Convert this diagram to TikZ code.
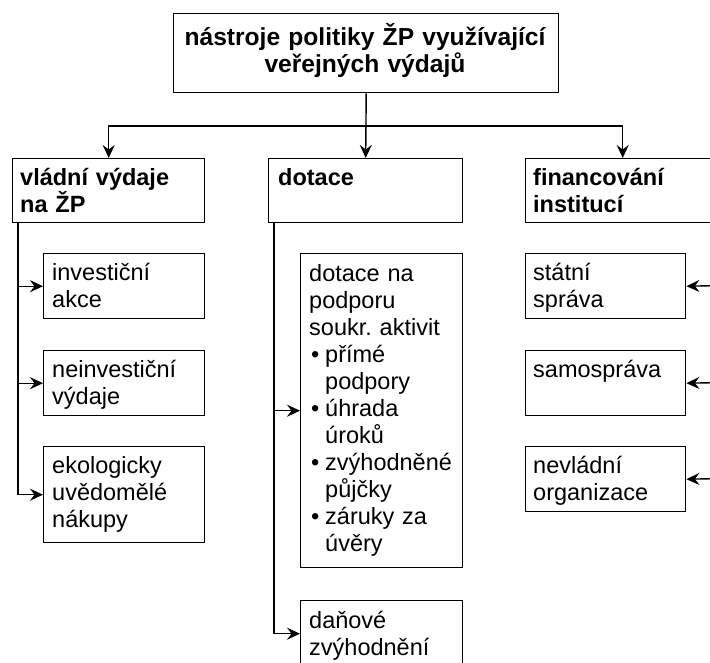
\documentclass[tikz,border=0pt]{standalone}
\usepackage{fontspec}
\setmainfont{Liberation Sans}
\frenchspacing
\usetikzlibrary{arrows.meta}
\tikzset{
  boxe/.style={draw, line width=1.4pt, anchor=north west, inner sep=0pt},
  txt/.style={anchor=base west, inner sep=0pt, align=left, text width=190pt,
              font=\fontsize{23.5pt}{27pt}\selectfont},
  btxt/.style={txt, font=\fontsize{23.5pt}{27pt}\selectfont\bfseries},
  conn/.style={line width=1.4pt},
  arr/.style={conn, -{Stealth[length=13pt,width=12pt,inset=4.5pt]}}
}
\newcommand\bul{\makebox[16pt][l]{\hspace*{2pt}•}}
\begin{document}
\begin{tikzpicture}[x=1pt,y=-1pt]
\useasboundingbox (0,0) rectangle (710,662);
\clip (0,0) rectangle (710,662);
% boxes
\node[boxe, minimum width=385pt, minimum height=79pt] (title) at (173,13) {};
\node[anchor=base, inner sep=0pt, align=center, text width=385pt, font=\fontsize{24.6pt}{27pt}\selectfont\bfseries] (titletxt) at (365,45)
  {nástroje politiky ŽP využívající\\veřejných výdajů};
\node[boxe, minimum width=192pt, minimum height=64pt] (vlad) at (12,158) {};
\node[btxt] (vladt) at (20,185) {vládní výdaje\\na ŽP};
\node[boxe, minimum width=194pt, minimum height=64pt] (dot) at (268,158) {};
\node[btxt] (dott) at (278,185) {dotace};
\node[boxe, minimum width=194pt, minimum height=64pt] (fin) at (525,158) {};
\node[btxt] (fint) at (533,185) {financování\\institucí};
% left column
\node[boxe, minimum width=161pt, minimum height=65pt] (inv) at (43,253) {};
\node[txt] (invt) at (52,280) {investiční\\akce};
\node[boxe, minimum width=161pt, minimum height=65pt] (ninv) at (43,350) {};
\node[txt] (ninvt) at (52,377) {neinvestiční\\výdaje};
\node[boxe, minimum width=161pt, minimum height=96pt] (eko) at (43,446) {};
\node[txt] (ekot) at (52,473) {ekologicky\\uvědomělé\\nákupy};
% middle column
\node[boxe, minimum width=162pt, minimum height=314pt] (pod) at (300,253) {};
\node[txt] (podt) at (309,281) {dotace na\\podporu\\soukr. aktivit\\
  \bul přímé\\\hspace*{16pt}podpory\\
  \bul úhrada\\\hspace*{16pt}úroků\\
  \bul zvýhodněné\\\hspace*{16pt}půjčky\\
  \bul záruky za\\\hspace*{16pt}úvěry};
\node[boxe, minimum width=162pt, minimum height=66pt] (dan) at (300,600) {};
\node[txt] (dant) at (309,628) {daňové\\zvýhodnění};
% right column
\node[boxe, minimum width=160pt, minimum height=65pt] (stat) at (525,253) {};
\node[txt] (statt) at (533,280) {státní\\správa};
\node[boxe, minimum width=160pt, minimum height=65pt] (sam) at (525,350) {};
\node[txt] (samt) at (533,377) {samospráva};
\node[boxe, minimum width=160pt, minimum height=65pt] (nev) at (525,446) {};
\node[txt] (nevt) at (533,473) {nevládní\\organizace};
% connectors
\coordinate (hub) at (365,126);
\draw[arr] (title.south) -- (dot.north);
\draw[arr] (hub) -| (vlad.north);
\draw[arr] (hub) -| (fin.north);
\coordinate (l0) at ([xshift=6pt]vlad.south west);
\draw[arr] (l0) |- (inv.west);
\draw[arr] (l0) |- (ninv.west);
\draw[arr] (l0) |- (eko.west);
\coordinate (m0) at ([xshift=6pt]dot.south west);
\draw[arr] (m0) |- (pod.west);
\draw[arr] (m0) |- (dan.west);
\coordinate (r1) at (725,285.5);
\coordinate (r2) at (725,382.5);
\coordinate (r3) at (725,478.5);
\draw[arr] (r1) -- (stat.east);
\draw[arr] (r2) -- (sam.east);
\draw[arr] (r3) -- (nev.east);
\end{tikzpicture}
\end{document}
